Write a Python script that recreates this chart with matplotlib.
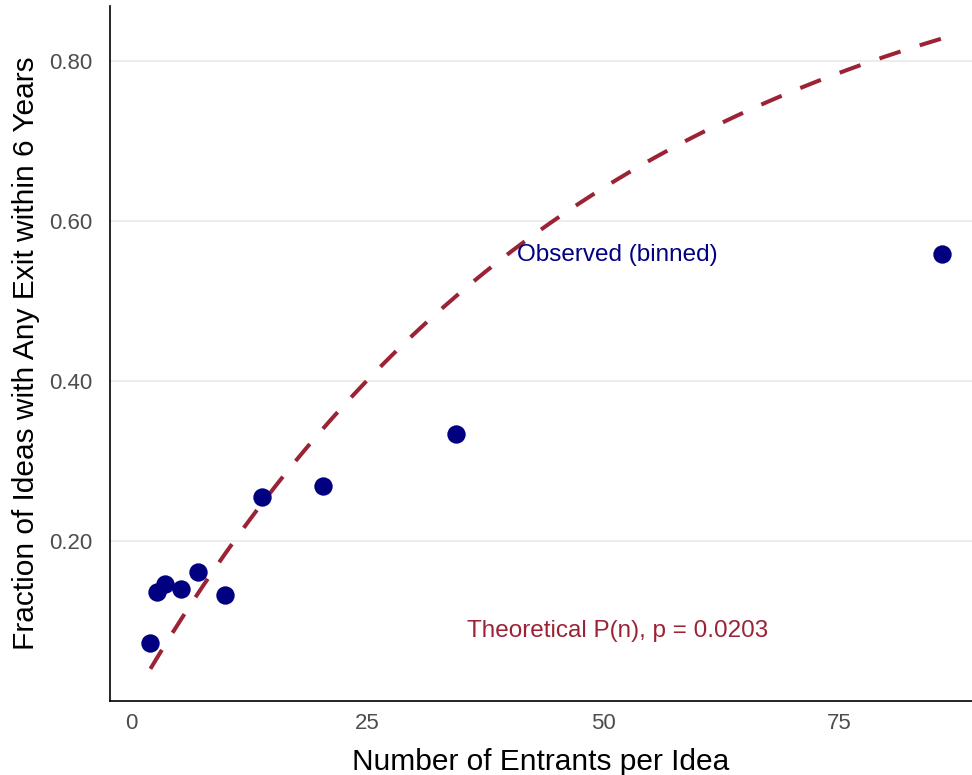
import numpy as np
import matplotlib.pyplot as plt

plt.rcParams['font.family'] = ['Liberation Sans', 'DejaVu Sans']

# binned observations
entrants = [2.0, 2.7, 3.6, 5.25, 7.0, 9.95, 13.8, 20.3, 34.4, 85.9]
exit_frac = [0.072, 0.136, 0.146, 0.140, 0.161, 0.132, 0.255, 0.269, 0.334, 0.559]

p_hat = 0.0203
n_min, n_max = 2, 86

point_color = "#000080"
curve_color = "#9B2335"

fig = plt.figure(figsize=(9.72, 7.75), dpi=100)
ax = fig.add_axes([0.1132, 0.0955, 0.8868, 0.8968])

n = np.linspace(n_min, n_max, 300)
ax.plot(n, 1 - (1 - p_hat) ** n, color=curve_color, linewidth=2.9,
        linestyle=(0, (5.5, 5)), zorder=2)
ax.scatter(entrants, exit_frac, s=175, color=point_color, zorder=3, linewidths=0)

ax.text(51.5, 0.558, "Observed (binned)", color=point_color, fontsize=17.5,
        ha="center", va="center")
ax.text(51.5, 0.0875, "Theoretical P(n), p = 0.0203", color=curve_color,
        fontsize=17.5, ha="center", va="center")

ax.set_xlim(-2.28, 89.1)
ax.set_ylim(0.0, 0.869)
ax.set_xticks([0, 25, 50, 75])
ax.set_yticks([0.2, 0.4, 0.6, 0.8])
ax.set_yticklabels(["0.20", "0.40", "0.60", "0.80"])
ax.tick_params(length=0, labelsize=16, labelcolor="#4D4D4D")
ax.tick_params(axis="y", pad=13)
ax.tick_params(axis="x", pad=9)

ax.grid(axis="y", color="#EBEBEB", linewidth=1.3)
ax.set_axisbelow(True)
for side in ["top", "right"]:
    ax.spines[side].set_visible(False)
for side in ["left", "bottom"]:
    ax.spines[side].set_linewidth(1.2)
    ax.spines[side].set_color("black")

ax.set_xlabel("Number of Entrants per Idea", fontsize=21.5)
ax.set_ylabel("Fraction of Ideas with Any Exit within 6 Years", fontsize=21.5)
ax.xaxis.set_label_coords(0.5, -0.067)
ax.yaxis.set_label_coords(-0.081, 0.5)

fig.savefig("out.png", dpi=100)
